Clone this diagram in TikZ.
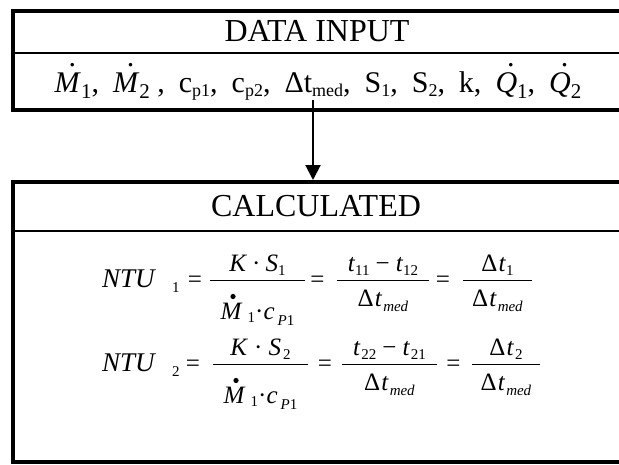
\documentclass[tikz,border=0pt]{standalone}
\usepackage{fontspec}
\setmainfont{Liberation Serif}
\usetikzlibrary{arrows.meta}
\newcommand\dotM[1]{\ooalign{#1\cr\hfil\kern0.3em\smash{\raisebox{0.84em}{.}}\hfil\cr}}
\newcommand\bigsub[1]{\raisebox{-0.2em}{\fontsize{21}{22}\selectfont #1}}
\newcommand\smsub[1]{\raisebox{-0.15em}{\fontsize{18}{19}\selectfont #1}}
\newcommand\esub[2][4pt]{\raisebox{-#1}{\fontsize{15}{16}\selectfont #2}}
\newcommand\gap{\hspace{14pt}}
\tikzset{
  heading/.style={font=\fontsize{32}{38}\selectfont, inner sep=0pt},
  itemtxt/.style={font=\fontsize{30}{34}\selectfont, inner sep=0pt, anchor=base},
  eqtxt/.style={font=\fontsize{25}{30}\selectfont, inner sep=0pt, anchor=base},
  eqleft/.style={eqtxt, font=\fontsize{27}{30}\selectfont, anchor=base west},
  eqsub/.style={font=\fontsize{15}{16}\selectfont, inner sep=0pt, anchor=base west},
  thickrule/.style={line width=4pt},
  thinrule/.style={line width=2.5pt},
  fracrule/.style={line width=1pt},
  flowarrow/.style={line width=2pt, -{Triangle[length=15pt,width=15pt]}},
}
\begin{document}
\begin{tikzpicture}[x=1pt, y=-1pt]
\useasboundingbox (0,0) rectangle (619,464);
% top box
\draw[thickrule] (625,10.5) -- (12.5,10.5) -- (12.5,110) -- (625,110);
\draw[thinrule] (12,53) -- (625,53);
\node[heading] (datainput) at (317,31.5) {DATA INPUT};
\node[itemtxt] (inputs) at (318,92) {\dotM{\textit{M}}\bigsub{1},\gap\dotM{\textit{M}}\bigsub{2} ,\gap c\smsub{p1},\gap c\smsub{p2},\gap Δt\smsub{med},\gap S\smsub{1},\gap S\smsub{2},\gap k,\gap \dotM{\textit{Q}}\bigsub{1},\gap \dotM{\textit{Q}}\bigsub{2}};
% arrow
\coordinate (arrowTop) at (313,100);
\coordinate (arrowEnd) at (313,180);
\draw[flowarrow] (arrowTop) -- (arrowEnd);
% bottom box
\draw[thickrule] (625,182) -- (12.5,182) -- (12.5,461.5) -- (625,461.5);
\draw[thinrule] (12,231) -- (625,231);
\node[heading] (calc) at (316,206.5) {CALCULATED};
% equation 1
\node[eqleft] (ntuA) at (102,287) {\textit{NTU}};
\node[eqsub] (ntuAs) at (172,292) {1};
\node[eqtxt] (eqA1) at (195,287) {=};
\node[eqtxt] (numA1) at (257.5,271) {\textit{K}\hspace{5pt}·\hspace{5pt}\textit{S}\esub{1}};
\draw[fracrule] (210,280) -- (305,280);
\node[eqtxt] (denA1) at (257.5,319) {\textit{M}\hspace{5pt}\esub[3pt]{1}·\textit{c}\hspace{3pt}\esub[6pt]{\textit{P}1}};
\fill ([shift={(12.5pt,22.5pt)}]denA1.base west) circle (2.6pt);
\node[eqtxt] (eqA2) at (317.5,287) {=};
\node[eqtxt] (numA2) at (383,271) {\textit{t}\esub{11}\hspace{6pt}−\hspace{6pt}\textit{t}\esub{12}};
\draw[fracrule] (337,280) -- (429,280);
\node[eqtxt] (denA2) at (383,306) {Δ\hspace{1pt}\textit{t}\hspace{1pt}\esub[5pt]{\textit{med}}};
\node[eqtxt] (eqA3) at (443,287) {=};
\node[eqtxt] (numA3) at (497.5,271) {Δ\hspace{1pt}\textit{t}\esub{1}};
\draw[fracrule] (463,280) -- (532,280);
\node[eqtxt] (denA3) at (497.5,306) {Δ\hspace{1pt}\textit{t}\hspace{1pt}\esub[5pt]{\textit{med}}};
% equation 2
\node[eqleft] (ntuB) at (102,371) {\textit{NTU}};
\node[eqsub] (ntuBs) at (172,376) {2};
\node[eqtxt] (eqB1) at (193,371) {=};
\node[eqtxt] (numB1) at (260.5,355) {\textit{K}\hspace{6pt}·\hspace{6pt}\textit{S}\hspace{2pt}\esub{2}};
\draw[fracrule] (213,364) -- (308,364);
\node[eqtxt] (denB1) at (260.5,403) {\textit{M}\hspace{5pt}\esub[3pt]{1}·\textit{c}\hspace{3pt}\esub[6pt]{\textit{P}1}};
\fill ([shift={(12.5pt,22.5pt)}]denB1.base west) circle (2.6pt);
\node[eqtxt] (eqB2) at (325,371) {=};
\node[eqtxt] (numB2) at (389.5,355) {\textit{t}\hspace{1pt}\esub{22}\hspace{6pt}−\hspace{6pt}\textit{t}\hspace{1pt}\esub{21}};
\draw[fracrule] (342,364) -- (437,364);
\node[eqtxt] (denB2) at (389.5,390) {Δ\hspace{1pt}\textit{t}\hspace{1pt}\esub[5pt]{\textit{med}}};
\node[eqtxt] (eqB3) at (453.5,371) {=};
\node[eqtxt] (numB3) at (506,355) {Δ\hspace{1pt}\textit{t}\hspace{1pt}\esub{2}};
\draw[fracrule] (472,364) -- (540,364);
\node[eqtxt] (denB3) at (506,390) {Δ\hspace{1pt}\textit{t}\hspace{1pt}\esub[5pt]{\textit{med}}};
\end{tikzpicture}
\end{document}
